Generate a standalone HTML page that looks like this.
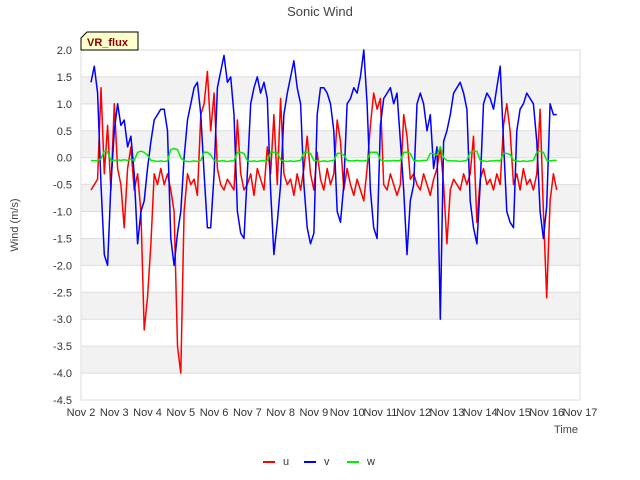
<!DOCTYPE html>
<html><head><meta charset="utf-8"><style>
body{margin:0;background:#fff;font-family:"Liberation Sans",sans-serif;}
svg{display:block}
</style></head><body>
<svg id="chart" width="640" height="480" xmlns="http://www.w3.org/2000/svg">
<rect width="640" height="480" fill="#fff"/>
<g id="bands"></g>
<text x="320" y="16" text-anchor="middle" font-size="13" fill="#444">Sonic Wind</text>
<text transform="translate(18,225) rotate(-90)" text-anchor="middle" font-size="11" fill="#444">Wind (m/s)</text>
<text x="578" y="433" text-anchor="end" font-size="11" fill="#444">Time</text>
<g id="yticks"></g><g id="xticks"></g>
<g id="series"></g>
<g>
<path d="M81,50 L81,38 L87,32 L138,32 L138,50 Z" fill="#ffffcc" stroke="#000" stroke-width="1"/>
<text x="87" y="46" font-size="11" font-weight="bold" fill="#8b0000">VR_flux</text>
</g>
<g>
<line x1="263" y1="462" x2="275" y2="462" stroke="#f00" stroke-width="2"/>
<text x="283" y="465" font-size="11" fill="#333">u</text>
<line x1="304" y1="462" x2="316" y2="462" stroke="#00f" stroke-width="2"/>
<text x="324" y="465" font-size="11" fill="#333">v</text>
<line x1="347" y1="462" x2="359" y2="462" stroke="#0e0" stroke-width="2"/>
<text x="367" y="465" font-size="11" fill="#333">w</text>
</g>
</svg>
<script>
const startDay = 2.3;
const stepDay = 0.1;
const yTicks = [2.0,1.5,1.0,0.5,0.0,-0.5,-1.0,-1.5,-2.0,-2.5,-3.0,-3.5,-4.0,-4.5];
const xTickLabels = ["Nov 2","Nov 3","Nov 4","Nov 5","Nov 6","Nov 7","Nov 8","Nov 9","Nov 10","Nov 11","Nov 12","Nov 13","Nov 14","Nov 15","Nov 16","Nov 17"];
const uVals = [-0.6,-0.5,-0.4,1.3,-0.3,0.6,-0.6,1.0,-0.2,-0.5,-1.3,-0.2,0.2,-0.6,-0.3,-1.0,-3.2,-2.6,-1.6,-0.3,
-0.5,-0.2,-0.5,-0.3,-0.6,-1.0,-3.5,-4.0,-1.0,-0.3,-0.5,-0.4,-0.7,0.8,1.0,1.6,0.5,1.2,-0.2,-0.5,
-0.6,-0.4,-0.5,-0.6,0.7,-0.3,-0.6,-0.5,-0.3,-0.7,-0.2,-0.4,-0.6,0.2,-0.3,0.8,-0.5,1.1,-0.3,-0.5,
-0.4,-0.7,-0.3,-0.6,-0.2,0.4,-0.3,-0.6,0.1,-0.4,-0.6,-0.2,-0.5,-0.3,0.7,0.3,-0.6,-0.2,-0.5,-0.7,
-0.4,-0.6,-0.8,-0.2,0.6,1.2,0.9,1.1,-0.5,-0.6,-0.3,-0.5,-0.7,-0.5,0.8,0.4,-0.4,-0.3,-0.5,-0.6,
-0.3,-0.5,-0.7,-0.4,-0.2,0.2,-0.5,-1.6,-0.6,-0.4,-0.5,-0.6,-0.3,-0.5,-0.3,0.4,-1.2,-0.4,-0.2,-0.5,
-0.4,-0.6,-0.3,-0.5,0.6,1.0,0.5,-0.5,-0.3,-0.6,-0.2,-0.5,-0.4,-0.6,-0.3,0.9,-1.0,-2.6,-0.8,-0.3,-0.6];
const vVals = [1.4,1.7,1.2,-0.5,-1.8,-2.0,-0.5,0.5,1.0,0.6,0.7,0.2,0.4,-0.3,-1.6,-1.0,-0.8,-0.2,0.3,0.7,
0.8,0.9,0.9,0.5,-1.5,-2.0,-1.4,-1.0,0.0,0.7,1.0,1.3,1.4,0.8,-0.3,-1.3,-1.3,-0.3,1.3,1.6,
1.9,1.4,1.5,0.8,-1.0,-1.4,-1.5,-0.3,1.0,1.3,1.5,1.2,1.4,1.1,-0.6,-1.8,-1.2,-0.5,0.8,1.2,
1.5,1.8,1.3,1.0,-0.5,-1.3,-1.6,-1.4,0.8,1.3,1.3,1.2,1.0,0.5,-1.0,-1.2,-0.5,1.0,1.1,1.3,
1.2,1.5,2.0,1.0,-0.6,-1.3,-1.5,0.6,1.1,1.2,1.3,1.0,1.2,0.3,-0.6,-1.8,-0.8,-0.5,1.0,1.2,
1.0,0.5,0.8,-0.2,0.2,-3.0,0.3,0.5,0.8,1.2,1.3,1.4,1.2,0.9,-0.8,-1.3,-1.6,-0.5,1.0,1.2,
1.1,0.9,1.3,1.7,0.3,-1.0,-1.2,-1.3,0.5,0.9,1.0,1.2,1.1,1.0,0.3,-1.0,-1.5,-0.9,1.0,0.8,0.8];
const wVals = [-0.05,-0.06,-0.05,-0.02,0.12,0.11,-0.05,-0.05,-0.04,-0.05,-0.04,-0.05,-0.03,-0.05,0.1,0.12,0.1,0.05,-0.05,-0.06,
-0.07,-0.06,-0.07,-0.06,0.15,0.17,0.15,0.0,-0.06,-0.07,-0.07,-0.06,-0.07,-0.05,0.1,0.1,0.05,-0.05,-0.07,-0.06,
-0.06,-0.07,-0.06,-0.06,0.1,0.1,0.08,-0.05,-0.07,-0.06,-0.07,-0.06,-0.05,-0.06,0.1,0.1,0.1,-0.04,-0.06,-0.07,
-0.06,-0.07,-0.06,-0.05,0.1,0.1,0.08,-0.05,-0.06,-0.07,-0.06,-0.07,-0.06,-0.05,0.08,0.08,0.05,-0.05,-0.06,-0.06,
-0.05,-0.06,-0.06,-0.05,0.1,0.1,0.1,-0.04,-0.06,-0.06,-0.06,-0.05,-0.06,-0.05,0.1,0.1,0.08,-0.05,-0.06,-0.06,
-0.05,-0.05,0.08,0.07,0.05,0.2,0.0,-0.05,-0.06,-0.06,-0.06,-0.07,-0.06,-0.05,0.1,0.12,0.12,-0.05,-0.06,-0.07,
-0.06,-0.06,-0.05,-0.06,0.08,0.08,0.06,-0.05,-0.06,-0.07,-0.06,-0.07,-0.06,-0.05,0.1,0.12,0.1,-0.05,-0.06,-0.05,-0.05];

const NS = "http://www.w3.org/2000/svg";
const L = 81, R = 580, T = 50, B = 400;
const yMax = 2.0, yMin = -4.5, xMin = 2, xMax = 17;
function ys(v){ return T + (yMax - v) / (yMax - yMin) * (B - T); }
function xs(d){ return L + (d - xMin) / (xMax - xMin) * (R - L); }
function mk(tag, attrs, parent){ const e = document.createElementNS(NS, tag); for (const k in attrs) e.setAttribute(k, attrs[k]); parent.appendChild(e); return e; }

const bands = document.getElementById('bands');
for (let i = 0; i < yTicks.length - 1; i++) {
  if (i % 2 === 1) {
    const r = mk('rect', {x: L, y: ys(yTicks[i]), width: R - L, height: ys(yTicks[i+1]) - ys(yTicks[i]), fill: '#f2f2f2'}, bands);
    
    
  }
}
const yt = document.getElementById('yticks');
yTicks.forEach(v => {
  const ln = mk('line', {x1: L, x2: R, y1: ys(v), y2: ys(v), stroke: '#ddd', 'stroke-width': 1}, yt);
  
  
  const t = mk('text', {x: 72, y: ys(v) + 4, 'text-anchor': 'end', 'font-size': 11, fill: '#333'}, yt);
  t.textContent = v.toFixed(1);
  
  
});
const frame = mk('rect', {x: L, y: T, width: R - L, height: B - T, fill: 'none', stroke: '#ddd'}, yt);


const xt = document.getElementById('xticks');
xTickLabels.forEach((lab, i) => {
  const t = mk('text', {x: xs(xMin + i), y: 416, 'text-anchor': 'middle', 'font-size': 11, fill: '#333'}, xt);
  t.textContent = lab;
  
  
});
const sg = document.getElementById('series');
[[uVals, '#f00', 'series-u'], [vVals, '#00f', 'series-v'], [wVals, '#0e0', 'series-w']].forEach(([vals, col, name]) => {
  const pts = vals.map((v, i) => xs(startDay + i * stepDay).toFixed(1) + ',' + ys(v).toFixed(1)).join(' ');
  const p = mk('polyline', {points: pts, fill: 'none', stroke: col, 'stroke-width': 1.5, 'stroke-linejoin': 'round'}, sg);
  
  
});
</script>
</body></html>
